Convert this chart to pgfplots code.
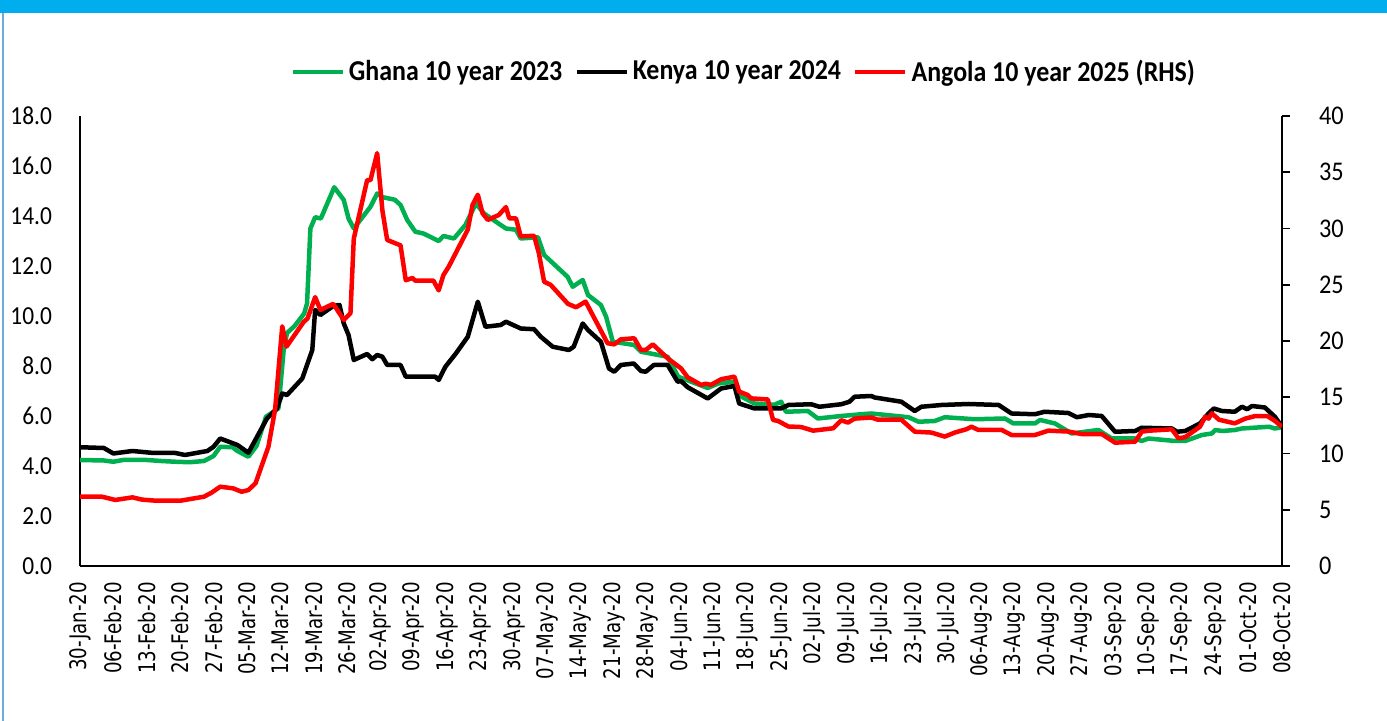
\documentclass[border=0pt]{standalone}
\usepackage{fontspec}
\setmainfont{Carlito}[FakeStretch=0.9]
\newfontfamily\dejavu{DejaVu Sans}[FakeStretch=0.8]
\newcommand\D{\dejavu\fontsize{11.4}{13}\selectfont}
\usepackage{pgfplots}
\pgfplotsset{compat=1.18}
\definecolor{gh}{RGB}{0,176,80}
\definecolor{ang}{RGB}{255,0,0}
\definecolor{topbar}{RGB}{0,174,239}
\definecolor{edge}{RGB}{110,170,220}

\begin{document}
\begin{tikzpicture}
\path[use as bounding box] (0,0) rectangle (693.5pt,360.5pt);
\fill[topbar] (0,354pt) rectangle (693.5pt,360.5pt);
\fill[edge] (1pt,0) rectangle (2pt,354pt);
\begin{axis}[
  at={(40pt,77.5pt)}, anchor=south west,
  scale only axis, width=601pt, height=225pt,
  xmin=0, xmax=252, ymin=0, ymax=18,
  axis x line*=bottom, axis y line*=left,
  axis line style={-, line width=0.9pt},
  ytick={0,2,...,18},
  yticklabel style={/pgf/number format/fixed, /pgf/number format/fixed zerofill, /pgf/number format/precision=1, /pgf/number format/assume math mode=true, font=\fontsize{13}{15}\selectfont, xshift=-10.5pt},
  xtick={0,7,...,252},
  xticklabels={\D 30-Jan-20,\D 06-Feb-20,\D 13-Feb-20,\D 20-Feb-20,\D 27-Feb-20,\D 05-Mar-20,\D 12-Mar-20,\D 19-Mar-20,\D 26-Mar-20,\D 02-Apr-20,\D 09-Apr-20,\D 16-Apr-20,\D 23-Apr-20,\D 30-Apr-20,\D 07-May-20,\D 14-May-20,\D 21-May-20,\D 28-May-20,\D 04-Jun-20,\D 11-Jun-20,\D 18-Jun-20,\D 25-Jun-20,\D 02-Jul-20,\D 09-Jul-20,\D 16-Jul-20,\D 23-Jul-20,\D 30-Jul-20,\D 06-Aug-20,\D 13-Aug-20,\D 20-Aug-20,\D 27-Aug-20,\D 03-Sep-20,\D 10-Sep-20,\D 17-Sep-20,\D 24-Sep-20,\D 01-Oct-20,\D 08-Oct-20},
  xticklabel style={rotate=90, anchor=east, xshift=-4.5pt},
  major tick length=0pt,
  line join=round,
]
% Ghana 10 year 2023
\addplot[gh, line width=2.25pt] coordinates {
(0,4.24)(5,4.22)(7,4.17)(9,4.24)(14,4.24)(17,4.20)(20,4.17)(23,4.15)(26,4.20)(28,4.40)(29.4,4.77)(32,4.75)(33,4.6)(35.3,4.37)(37,4.8)(39,5.97)(41.6,6.3)(42.7,8.64)(43.4,9.32)(45,9.6)(47,10.1)(47.6,10.5)(48.3,13.5)(49.3,13.95)(50.5,13.9)(53.3,15.15)(55.3,14.64)(56.3,13.9)(57.4,13.5)(60.9,14.37)(62.3,14.9)(63.5,14.75)(66,14.65)(67.2,14.44)(68.6,13.84)(70.3,13.37)(72,13.3)(75.2,13.0)(76.2,13.2)(78.4,13.1)(80.8,13.64)(83,14.5)(84.7,14.1)(87.2,13.77)(89.3,13.5)(91.4,13.45)(92.4,13.1)(96,13.15)(97.3,12.44)(102.2,11.57)(103.3,11.17)(105.4,11.44)(106.5,10.84)(109.2,10.44)(110.3,9.97)(111.7,8.97)(116.2,8.84)(117.6,8.57)(123.2,8.37)(125.4,7.57)(131.6,7.12)(133.8,7.3)(137.2,7.37)(138,6.84)(141.4,6.5)(145.6,6.45)(147,6.57)(148,6.17)(152.6,6.2)(154.7,5.9)(159.6,6.0)(163.8,6.07)(165.9,6.1)(173.7,5.95)(175.8,5.77)(179.2,5.8)(181.3,5.95)(187.6,5.87)(193.9,5.9)(195.7,5.7)(200.2,5.7)(201.3,5.84)(204.4,5.7)(207.9,5.3)(213.5,5.44)(216.3,5.1)(221.2,5.1)(222.6,5.0)(224,5.1)(229.6,5.0)(231.7,5.0)(235.2,5.24)(237.3,5.3)(238,5.44)(239.5,5.4)(242.1,5.44)(243.6,5.5)(249.3,5.57)(250.5,5.5)(252,5.55)
};
% Kenya 10 year 2024
\addplot[black, line width=2.25pt] coordinates {
(0,4.75)(5,4.72)(7,4.5)(11,4.6)(15.4,4.52)(20,4.52)(22,4.44)(26.7,4.6)(28,4.77)(29.4,5.1)(33,4.84)(35.3,4.53)(39.2,5.9)(41.3,6.3)(42.4,6.9)(43.4,6.84)(46.6,7.5)(48.7,8.64)(49.3,10.24)(50.4,10.04)(53.1,10.4)(54.4,10.44)(55.3,9.7)(56.3,9.24)(57.4,8.24)(60.2,8.48)(61.3,8.27)(62.3,8.44)(63.4,8.37)(64.4,8.04)(67.2,8.04)(68.3,7.57)(74.5,7.57)(75.2,7.44)(76.6,7.97)(78.8,8.5)(81.3,9.17)(83.4,10.57)(85,9.57)(88.2,9.64)(89.3,9.77)(90.8,9.64)(92.4,9.5)(95.2,9.47)(96.6,9.17)(99.1,8.77)(102.5,8.64)(103.5,8.77)(105.4,9.7)(106.5,9.44)(109.2,8.97)(110.9,7.9)(112,7.77)(113.4,8.04)(116.1,8.1)(117.6,7.8)(118.6,7.77)(120.3,8.04)(123.2,8.04)(125.3,7.37)(126,7.4)(127.4,7.15)(131.6,6.7)(134.4,7.1)(137.2,7.2)(138.2,6.5)(141.4,6.3)(147,6.3)(148.5,6.44)(153.3,6.47)(155,6.37)(159.6,6.47)(161.3,6.57)(162.4,6.77)(165.9,6.8)(166.6,6.74)(172.2,6.57)(175,6.2)(176.4,6.37)(180.6,6.44)(186.3,6.48)(192.6,6.44)(195.3,6.1)(200.2,6.07)(202.2,6.17)(207.2,6.12)(209,5.95)(211.5,6.04)(214.2,6.0)(217,5.37)(221.2,5.4)(222.6,5.53)(228.9,5.5)(230,5.37)(231.7,5.4)(234.8,5.7)(236.6,6.1)(237.7,6.3)(239.4,6.2)(242.1,6.17)(243.6,6.37)(244.7,6.27)(245.7,6.4)(248.4,6.34)(250.5,5.97)(252,5.57)
};
\end{axis}
\begin{axis}[
  at={(40pt,77.5pt)}, anchor=south west,
  scale only axis, width=601pt, height=225pt,
  xmin=0, xmax=252, ymin=0, ymax=40,
  axis x line=none, axis y line*=right,
  axis line style={-, line width=0.9pt},
  ytick={0,5,...,40},
  tick align=outside, major tick length=4pt,
  tick style={line width=0.9pt, black},
  yticklabel style={/pgf/number format/assume math mode=true, font=\fontsize{13.5}{15}\selectfont, xshift=11pt},
  legend style={at={(0.553,1.098)}, anchor=center, draw=none, fill=none,
    font=\bfseries\fontsize{14.4}{16}\selectfont, legend columns=3,
    /tikz/every even column/.append style={column sep=4pt}, inner sep=0pt},
  legend image code/.code={\draw[#1] (0pt,0pt) -- (25pt,0pt);},
  line join=round,
]
\addlegendimage{gh, line width=2.25pt}
\addlegendentry{Ghana 10 year 2023}
\addlegendimage{black, line width=2.25pt}
\addlegendentry{Kenya 10 year 2024}
% Angola 10 year 2025 (RHS)
\addplot[ang, line width=2.25pt] coordinates {
(0,6.16)(4.6,6.16)(7.4,5.87)(11,6.1)(13,5.9)(16,5.8)(21,5.8)(26,6.16)(27.6,6.52)(29.4,7.05)(32.1,6.9)(33.9,6.6)(35.3,6.75)(36.8,7.35)(39.5,10.6)(40.9,13.9)(42.4,21.3)(43.3,19.5)(46.9,21.7)(47.7,22.0)(49.3,23.9)(50.4,22.76)(53.1,23.3)(55.3,21.87)(56.7,22.46)(57.4,29.1)(60.2,34.3)(60.9,34.3)(62.3,36.7)(63.4,31.6)(64.4,28.98)(67.2,28.5)(68.3,25.4)(69.7,25.6)(70.3,25.36)(74.1,25.36)(75.2,24.5)(76.2,25.87)(77.3,26.6)(81.3,29.9)(82.3,32.1)(83.4,33.0)(84.4,31.35)(85.5,30.76)(87.8,31.2)(89.3,31.9)(90,30.9)(91.4,30.9)(92.4,29.3)(95.2,29.35)(96.2,27.8)(97.3,25.27)(98.7,24.98)(102.3,23.3)(104,23.0)(106,23.5)(110.6,19.8)(112,19.7)(113.4,20.15)(116.2,20.24)(117.6,19.2)(118.6,19.2)(120.1,19.7)(123.2,18.46)(126,17.57)(127.4,16.77)(130.2,16.1)(131.2,16.2)(132.3,16.1)(134.4,16.6)(137.2,16.83)(138.2,15.5)(140,15.2)(140.7,14.9)(144.2,14.8)(145.3,12.98)(146.3,12.9)(148.5,12.4)(151.2,12.35)(153.7,12.03)(157.9,12.24)(159.6,12.95)(161,12.75)(162.4,13.1)(165.9,13.2)(167.3,13.0)(172.2,13.0)(175,11.94)(178.5,11.86)(181.3,11.5)(183.4,11.86)(185.8,12.15)(186.9,12.38)(188.3,12.1)(193.2,12.1)(195.3,11.64)(200.2,11.64)(203,12.03)(207.2,11.95)(210,11.73)(214.2,11.73)(217,10.96)(221.2,11.05)(222.6,11.94)(224.3,12.03)(228.9,12.15)(230.3,11.35)(231.7,11.45)(234.8,12.38)(235.9,13.27)(236.6,13.1)(237.3,13.57)(238.8,13.0)(242.1,12.68)(244.3,13.1)(246.4,13.33)(248.9,13.33)(250.5,12.9)(252,12.38)
};
\addlegendentry{Angola 10 year 2025 (RHS)}
\end{axis}
\end{tikzpicture}
\end{document}
